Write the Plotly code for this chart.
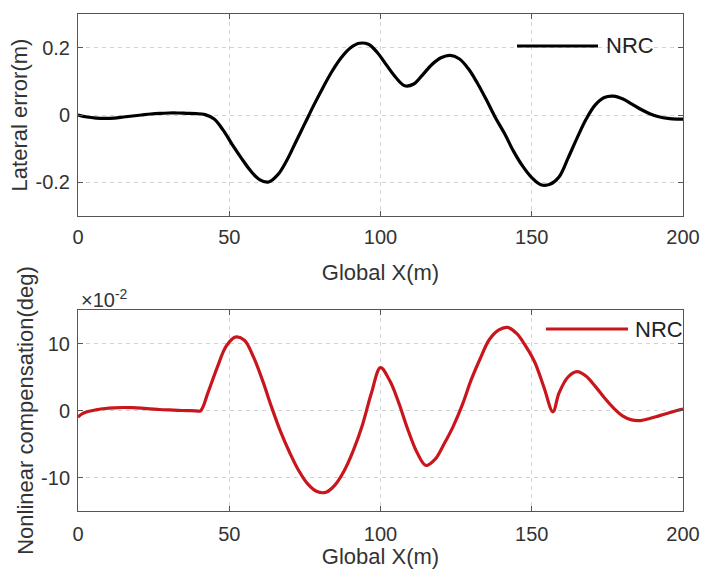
import plotly.graph_objects as go

# Lateral error along the path (m)
x_lat = [0, 3, 6, 9, 12, 15, 18, 21, 24, 27, 30, 33, 36, 39, 42, 45, 48, 51, 54, 57,
         60, 63, 66, 69, 72, 75, 78, 81, 84, 87, 90, 93, 96, 99, 102, 105, 108, 111,
         114, 117, 120, 123, 126, 129, 132, 135, 138, 141, 144, 147, 150, 153, 156,
         159, 162, 165, 168, 171, 174, 177, 180, 183, 186, 189, 192, 195, 198, 200]
lat_err = [0.000, -0.006, -0.009, -0.010, -0.009, -0.006, -0.003, 0.000, 0.003, 0.005,
           0.006, 0.006, 0.005, 0.004, 0.001, -0.012, -0.045, -0.088, -0.128, -0.165,
           -0.192, -0.199, -0.178, -0.135, -0.080, -0.025, 0.030, 0.082, 0.130, 0.170,
           0.199, 0.213, 0.210, 0.185, 0.148, 0.112, 0.087, 0.092, 0.120, 0.150,
           0.170, 0.177, 0.167, 0.138, 0.095, 0.045, -0.008, -0.055, -0.108, -0.152,
           -0.186, -0.207, -0.206, -0.184, -0.128, -0.068, -0.012, 0.030, 0.052, 0.056,
           0.048, 0.033, 0.017, 0.004, -0.005, -0.010, -0.012, -0.012]

# Nonlinear compensation (deg), in units of 1e-2
x_comp = [0, 1, 3, 6, 9, 12, 15, 18, 21, 24, 27, 30, 33, 36, 39, 40.5, 43, 46, 49, 52,
          55, 58, 61, 64, 67, 70, 73, 76, 79, 82, 85, 88, 91, 94, 97, 100, 103,
          106, 109, 112, 115, 118, 121, 124, 127, 130, 133, 136, 139, 142, 145, 148,
          151, 154, 157, 159, 162, 165, 168, 171, 174, 177, 180, 183, 186, 189, 192,
          195, 198, 200]
comp_e2 = [-1.0, -0.6, -0.2, 0.1, 0.3, 0.4, 0.45, 0.42, 0.35, 0.25, 0.15, 0.08, 0.02,
           -0.02, -0.05, -0.05, 2.7, 6.4, 9.6, 10.95, 10.5, 8.0, 4.5, 0.5, -3.2,
           -6.3, -9.0, -11.0, -12.1, -12.2, -11.1, -9.0, -6.0, -2.2, 2.6, 6.4, 4.5,
           1.2, -2.8, -6.2, -8.2, -7.3, -5.0, -2.4, 0.8, 4.6, 7.8, 10.6, 12.0, 12.4,
           11.5, 9.6, 7.2, 3.5, -0.2, 2.6, 5.0, 5.8, 5.1, 3.6, 1.9, 0.4, -0.8, -1.4,
           -1.5, -1.2, -0.8, -0.4, 0.0, 0.2]

x_ticks = [0, 50, 100, 150, 200]
lat_ticks = [-0.2, 0, 0.2]
lat_labels = ["-0.2", "0", "0.2"]
comp_ticks = [-10, 0, 10]
comp_labels = ["-10", "0", "10"]

FONT = "Liberation Sans, Arial, sans-serif"
TXT = "#333333"
FRAME = "#555555"
GRID = "#d2d2d2"
RED = "#c8161c"
TICK_SIZE = 20
LABEL_SIZE = 22

# Canvas and plot-box geometry (px)
W, H = 702, 569
BOX_L, BOX_R = 78, 683
TOP_T, TOP_B = 14, 216
BOT_T, BOT_B = 310, 511

fig = go.Figure()
fig.add_trace(go.Scatter(x=x_lat, y=lat_err, mode="lines", name="NRC",
                         line=dict(color="#000000", width=3.2, shape="spline", smoothing=1.0),
                         xaxis="x", yaxis="y", showlegend=False))
fig.add_trace(go.Scatter(x=x_comp, y=comp_e2, mode="lines", name="NRC",
                         line=dict(color=RED, width=3.2, shape="spline", smoothing=1.0),
                         xaxis="x2", yaxis="y2", showlegend=False))

axis_common = dict(showline=True, linecolor=FRAME, linewidth=1, mirror="ticks",
                   ticks="inside", ticklen=5, tickcolor=FRAME, tickwidth=1,
                   showgrid=True, gridcolor=GRID, griddash="4px,4px", gridwidth=1,
                   zeroline=False, automargin=False, ticklabeloverflow="allow",
                   tickfont=dict(family=FONT, size=TICK_SIZE, color=TXT))
title_font = dict(family=FONT, size=LABEL_SIZE, color=TXT)

area_h = BOT_B - TOP_T
area_w = BOX_R - BOX_L
top_lo = (BOT_B - TOP_B) / area_h
bot_hi = (BOT_B - BOT_T) / area_h

fig.update_layout(
    width=W, height=H, autosize=False,
    margin=dict(l=BOX_L, r=W - BOX_R, t=TOP_T, b=H - BOT_B),
    paper_bgcolor="white", plot_bgcolor="white",
    font=dict(family=FONT, size=TICK_SIZE, color=TXT),
    xaxis=dict(axis_common, domain=[0, 1], range=[0, 200], tickvals=x_ticks,
               anchor="y", ticklabelstandoff=3,
               title=dict(text="Global X(m)", standoff=17, font=title_font)),
    yaxis=dict(axis_common, domain=[top_lo, 1], range=[-0.3, 0.3],
               tickvals=lat_ticks, ticktext=lat_labels, anchor="x", ticklabelstandoff=3,
               title=dict(text="Lateral error(m)", standoff=1, font=title_font)),
    xaxis2=dict(axis_common, domain=[0, 1], range=[0, 200], tickvals=x_ticks,
                anchor="y2", ticklabelstandoff=5,
                title=dict(text="Global X(m)", standoff=8, font=title_font)),
    yaxis2=dict(axis_common, domain=[0, bot_hi], range=[-15, 15],
                tickvals=comp_ticks, ticktext=comp_labels, anchor="x2", ticklabelstandoff=3,
                title=dict(text="Nonlinear compensation(deg)", standoff=1, font=title_font)),
)

# In-plot legend keys: a sample line plus the series name
def px_x(p):
    return (p - BOX_L) / area_w

def px_y(p):
    return (BOT_B - p) / area_h

legend_keys = [
    (517, 598, 46, 604, "#000000"),
    (546, 628, 329, 633, RED),
]
for x0, x1, yy, xt, col in legend_keys:
    fig.add_shape(type="line", xref="paper", yref="paper",
                  x0=px_x(x0), x1=px_x(x1), y0=px_y(yy), y1=px_y(yy),
                  line=dict(color=col, width=3.2))
    fig.add_annotation(xref="paper", yref="paper", x=px_x(xt), y=px_y(yy),
                       xanchor="left", yanchor="middle", showarrow=False,
                       text="NRC", font=dict(family=FONT, size=LABEL_SIZE, color="#222222"))

# Scale factor label for the lower axis
fig.add_annotation(xref="paper", yref="paper", x=px_x(79), y=px_y(BOT_T + 3),
                   xanchor="left", yanchor="bottom", showarrow=False,
                   text="×10<sup>-2</sup>", font=dict(family=FONT, size=20, color=TXT))

fig.write_html("out.html")
